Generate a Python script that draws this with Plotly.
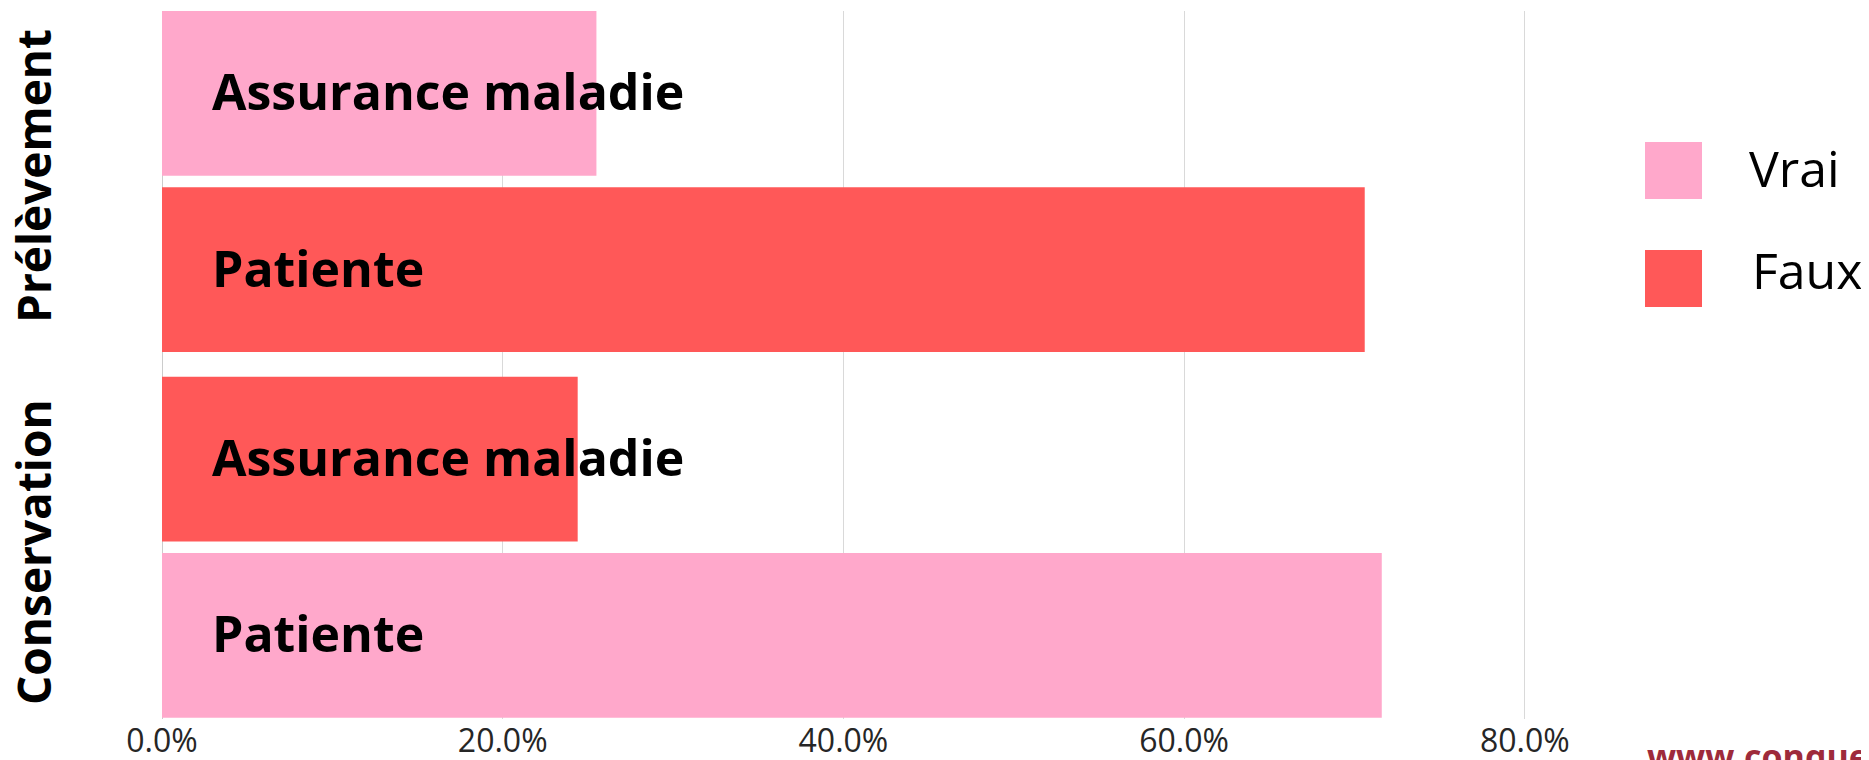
import plotly.graph_objects as go

GROUPS = ["Prélèvement", "Conservation"]
SOURCES = ["Assurance maladie", "Patiente"]
PRELEVEMENT = [0.255, 0.706]
PRELEVEMENT_STATUS = ["Vrai", "Faux"]
CONSERVATION = [0.244, 0.716]
CONSERVATION_STATUS = ["Faux", "Vrai"]
LEGEND_ITEMS = ["Vrai", "Faux"]
X_TICKS = [0, 0.2, 0.4, 0.6, 0.8]

COLORS = {"Vrai": "#ffa8cb", "Faux": "#ff5858"}
FONT = "Open Sans, Segoe UI, sans-serif"

# la page ajoute 8px de marge autour de la figure
PAGE_PAD = 8
WIDTH, HEIGHT = 1869 - PAGE_PAD, 760 - PAGE_PAD
MARGIN = dict(l=154, r=269, t=3, b=41)
BAR_WIDTH = 0.935
SHIFTS = [-0.05, 0.025]


def _px(x, y):
    """Pixel de la page -> coordonnees paper."""
    pw = WIDTH - MARGIN["l"] - MARGIN["r"]
    ph = HEIGHT - MARGIN["t"] - MARGIN["b"]
    x, y = x - PAGE_PAD, y - PAGE_PAD
    return (x - MARGIN["l"]) / pw, (HEIGHT - MARGIN["b"] - y) / ph


fig = go.Figure()
categories = []
annotations = []
series = [
    (GROUPS[0], PRELEVEMENT, PRELEVEMENT_STATUS, SHIFTS[0]),
    (GROUPS[1], CONSERVATION, CONSERVATION_STATUS, SHIFTS[1]),
]
for group, values, status, shift in series:
    cats = [f"{group} | {s}" for s in SOURCES]
    fig.add_trace(go.Bar(
        y=cats,
        x=values,
        orientation="h",
        marker=dict(color=[COLORS[s] for s in status], line=dict(width=0)),
        width=BAR_WIDTH,
        offset=-BAR_WIDTH / 2 + shift,
        showlegend=False,
        hovertemplate="%{x:.1%}<extra></extra>",
    ))
    # libelles des barres, poses sur l'axe (centres sur la barre)
    for label in SOURCES:
        annotations.append(dict(
            text=label, x=0, y=len(categories) + shift, xref="x", yref="y",
            xanchor="left", yanchor="middle", xshift=48, yshift=2,
            showarrow=False,
            font=dict(family=FONT, size=50, color="black", weight="bold"),
        ))
        categories.append(f"{group} | {label}")

# titres de groupe (verticaux)
for group, yc in zip(GROUPS, [176, 552]):
    x, y = _px(33, yc)
    annotations.append(dict(
        text=group, x=x, y=y, xref="paper", yref="paper",
        textangle=-90, showarrow=False, xanchor="center", yanchor="middle",
        font=dict(family=FONT, size=46, color="black", weight="bold"),
    ))

# legende manuelle (grands carres)
shapes = []
for name, top, text_x, text_y in zip(LEGEND_ITEMS, [142, 250], [1747, 1750], [168, 270]):
    x0, y1 = _px(1645, top)
    x1, y0 = _px(1702, top + 57)
    shapes.append(dict(
        type="rect", xref="paper", yref="paper", x0=x0, x1=x1, y0=y0, y1=y1,
        fillcolor=COLORS[name], line=dict(width=0),
    ))
    tx, ty = _px(text_x, text_y)
    annotations.append(dict(
        text=name, x=tx, y=ty, xref="paper", yref="paper", showarrow=False,
        xanchor="left", yanchor="middle",
        font=dict(family=FONT, size=50, color="black"),
    ))

wx, wy = _px(1645, 731)
annotations.append(dict(
    text="www.conquete.fr", x=wx, y=wy, xref="paper", yref="paper",
    showarrow=False, xanchor="left", yanchor="top",
    font=dict(family=FONT, size=34, color="#9e2b3b", weight="bold"),
))

fig.update_layout(
    width=WIDTH,
    height=HEIGHT,
    margin=MARGIN,
    paper_bgcolor="white",
    plot_bgcolor="white",
    font=dict(family=FONT),
    xaxis=dict(
        range=[0, 0.8441],
        tickvals=X_TICKS,
        tickformat=".1%",
        automargin=False,
        showgrid=True,
        gridcolor="#d9d9d9",
        gridwidth=1,
        zeroline=True,
        zerolinecolor="#cccccc",
        zerolinewidth=1,
        showline=False,
        ticks="",
        tickfont=dict(family=FONT, size=32, color="#262626"),
    ),
    yaxis=dict(
        type="category",
        categoryorder="array",
        categoryarray=categories,
        autorange="reversed",
        automargin=False,
        showticklabels=False,
        ticks="",
        showgrid=False,
        showline=False,
        zeroline=False,
    ),
    shapes=shapes,
    annotations=annotations,
)

fig.write_html("out.html")
